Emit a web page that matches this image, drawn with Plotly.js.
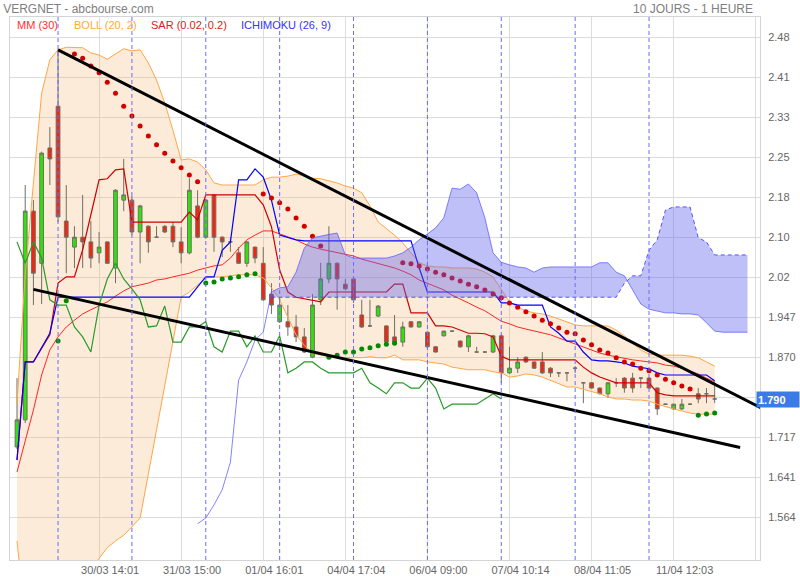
<!DOCTYPE html>
<html>
<head>
<meta charset="utf-8">
<script src="https://cdn.plot.ly/plotly-3.0.1.min.js"></script>
<style>html,body{margin:0;padding:0;background:#fff;}#chart{width:800px;height:580px;}</style>
</head>
<body>
<div id="chart"></div>
<script>
// ---- hourly OHLC (86 bars) ----
const opens = [1.699,1.751,2.151,2.051,2.272,2.352,2.132,2.082,2.101,2.092,
  2.071,2.092,2.042,2.172,2.172,2.111,2.122,2.101,2.122,2.122,
  2.092,2.071,2.161,2.101,2.182,2.101,2.092,2.071,2.051,2.082,
  2.051,1.992,1.939,1.939,1.929,1.910,1.871,1.981,2.021,2.051,
  2.011,2.021,1.952,1.931,1.950,1.931,1.910,1.900,1.939,1.929,
  1.919,1.891,1.912,1.921,1.902,1.891,1.881,1.881,1.881,1.912,
  1.841,1.850,1.871,1.862,1.862,1.850,1.841,1.841,1.850,1.822,
  1.822,1.812,1.801,1.822,1.831,1.831,1.831,1.831,1.812,1.781,
  1.772,1.772,1.781,1.801,1.801,1.791];
const highs = [1.831,2.201,2.172,2.265,2.312,2.462,2.201,2.122,2.182,2.132,
  2.111,2.093,2.193,2.251,2.180,2.163,2.124,2.122,2.124,2.130,
  2.120,2.214,2.191,2.175,2.184,2.103,2.100,2.082,2.094,2.083,
  2.082,2.013,1.986,1.971,1.952,1.927,1.992,2.052,2.122,2.053,
  2.021,2.023,1.981,1.981,1.971,1.932,1.952,1.939,1.940,1.940,
  1.920,1.892,1.922,1.922,1.903,1.914,1.891,1.882,1.914,1.914,
  1.891,1.871,1.873,1.863,1.881,1.852,1.842,1.842,1.854,1.823,
  1.823,1.813,1.823,1.831,1.833,1.841,1.833,1.833,1.813,1.782,
  1.782,1.791,1.782,1.812,1.812,1.824];
const lows = [1.695,1.745,1.971,1.973,2.201,2.130,2.032,2.042,2.042,2.042,
  2.051,2.050,2.013,2.151,2.105,2.051,2.071,2.101,2.109,2.082,
  2.051,2.068,2.099,2.098,2.073,2.063,2.073,2.050,2.044,2.051,
  1.979,1.954,1.937,1.912,1.900,1.879,1.869,1.971,2.013,1.962,
  2.000,1.975,1.927,1.929,1.948,1.898,1.898,1.891,1.928,1.928,
  1.889,1.880,1.911,1.920,1.889,1.881,1.880,1.880,1.879,1.822,
  1.839,1.841,1.860,1.849,1.839,1.833,1.833,1.825,1.841,1.783,
  1.811,1.800,1.793,1.814,1.803,1.803,1.812,1.810,1.760,1.780,
  1.770,1.770,1.780,1.783,1.783,1.783];
const closes = [1.751,2.151,2.032,2.262,2.251,2.140,2.101,2.101,2.092,2.061,
  2.082,2.051,2.191,2.182,2.111,2.161,2.092,2.101,2.111,2.092,
  2.071,2.191,2.101,2.172,2.101,2.092,2.092,2.051,2.092,2.061,
  1.981,1.971,1.971,1.929,1.910,1.881,1.971,2.021,2.051,2.021,
  2.002,1.981,1.929,1.931,1.969,1.900,1.900,1.929,1.929,1.939,
  1.891,1.881,1.921,1.921,1.891,1.912,1.881,1.881,1.912,1.841,
  1.850,1.862,1.862,1.850,1.841,1.841,1.841,1.841,1.850,1.822,
  1.812,1.801,1.822,1.822,1.812,1.812,1.831,1.812,1.772,1.781,
  1.781,1.781,1.781,1.791,1.801,1.791];

// ---- MM (30) ----
const ma30 = [1.651,1.712,1.770,1.837,1.885,1.910,1.929,1.942,1.954,1.962,
  1.969,1.977,1.988,1.998,2.006,2.009,2.013,2.019,2.021,2.025,
  2.029,2.032,2.038,2.042,2.046,2.048,2.061,2.080,2.096,2.105,
  2.113,2.113,2.107,2.101,2.096,2.088,2.082,2.078,2.075,2.071,
  2.069,2.065,2.059,2.055,2.050,2.046,2.042,2.036,2.029,2.019,
  2.013,2.006,2.000,1.990,1.983,1.975,1.967,1.960,1.950,1.940,
  1.935,1.929,1.925,1.921,1.917,1.914,1.908,1.902,1.896,1.891,
  1.885,1.879,1.875,1.872,1.868,1.866,1.864,1.862,1.860,1.856,
  1.854,1.850,1.845,1.839,1.831,1.824];

// ---- BOLL (20, 2) ----
const bollUp = [1.783,2.029,2.205,2.377,2.441,2.460,2.465,2.465,2.464,2.454,
  2.450,2.442,2.452,2.462,2.458,2.460,2.435,2.402,2.358,2.306,
  2.249,2.251,2.245,2.230,2.205,2.201,2.201,2.201,2.201,2.201,
  2.211,2.216,2.216,2.218,2.222,2.218,2.214,2.213,2.209,2.205,
  2.199,2.195,2.186,2.161,2.130,2.117,2.105,2.090,2.071,2.052,
  2.046,2.044,2.044,2.042,2.042,2.042,2.040,2.034,2.025,2.000,
  1.977,1.967,1.960,1.956,1.954,1.950,1.944,1.939,1.933,1.931,
  1.931,1.931,1.931,1.923,1.912,1.898,1.885,1.877,1.875,1.875,
  1.875,1.875,1.873,1.870,1.862,1.854];
const bollLow = [1.519,1.368,1.330,1.300,1.300,1.320,1.350,1.390,1.430,1.465,
  1.486,1.506,1.519,1.530,1.546,1.563,1.647,1.732,1.816,1.900,
  1.986,1.996,2.009,2.023,2.025,2.025,2.027,2.029,2.029,2.029,
  2.023,2.004,1.981,1.946,1.914,1.894,1.879,1.875,1.872,1.870,
  1.870,1.870,1.870,1.872,1.870,1.870,1.875,1.866,1.866,1.866,
  1.862,1.860,1.858,1.852,1.850,1.847,1.847,1.847,1.843,1.841,
  1.833,1.835,1.839,1.837,1.833,1.827,1.820,1.814,1.814,1.810,
  1.806,1.801,1.795,1.791,1.791,1.789,1.789,1.787,1.781,1.776,
  1.772,1.768,1.764,1.762,1.762,1.762];

// ---- SAR (0.02, 0.2) ----
const sar = [null,null,null,null,null,1.902,1.979,
  2.452,2.444,2.429,2.416,2.398,2.377,2.352,2.333,2.314,2.295,2.278,2.262,2.247,2.234,2.220,2.207,
  2.013,2.015,2.021,2.023,2.025,2.029,2.031,
  2.184,2.176,2.167,2.155,2.138,2.122,2.103,2.084,
  1.871,1.875,1.881,1.881,1.887,1.889,1.893,1.896,1.898,
  2.052,2.050,2.046,2.040,2.034,2.029,2.023,2.017,2.011,2.006,2.000,1.992,1.985,1.975,1.967,1.958,1.950,1.942,
  1.935,1.927,1.919,1.916,1.904,1.895,1.885,1.879,1.870,1.862,1.858,1.850,1.845,1.837,1.829,1.822,1.816,1.810,
  1.760,1.762,1.764];

// ---- ICHIMOKU (26, 9) ----
const tenkan = [1.674,1.862,1.862,1.889,1.914,2.013,2.025,2.025,2.077,2.144,
  2.211,2.213,2.230,2.232,2.130,2.130,2.130,2.130,2.130,2.130,
  2.130,2.149,2.134,2.182,2.182,2.182,2.182,2.182,2.182,2.182,
  2.163,2.121,2.038,1.996,1.986,1.983,1.981,1.977,1.996,1.996,
  1.996,1.996,1.996,1.996,1.996,1.996,2.011,2.011,1.956,1.956,
  1.956,1.931,1.931,1.929,1.923,1.917,1.917,1.916,1.910,1.873,
  1.866,1.866,1.866,1.866,1.866,1.866,1.866,1.866,1.866,1.852,
  1.841,1.833,1.827,1.822,1.822,1.822,1.822,1.822,1.803,1.799,
  1.797,1.797,1.797,1.797,1.797,1.797];
const kijun = [1.674,1.862,1.862,1.889,1.917,1.986,1.986,1.986,1.986,1.986,
  1.986,1.986,1.986,1.986,1.986,1.986,1.986,1.986,1.986,1.986,
  1.986,1.986,2.006,2.025,2.025,2.076,2.092,2.211,2.211,2.232,
  2.216,2.172,2.105,2.100,2.096,2.094,2.094,2.094,2.094,2.094,
  2.094,2.094,2.094,2.094,2.094,2.094,2.094,2.094,2.094,2.042,
  1.996,1.996,1.996,1.996,1.996,1.996,1.996,1.996,1.996,1.975,
  1.975,1.971,1.971,1.971,1.971,1.929,1.917,1.902,1.902,1.881,
  1.866,1.864,1.864,1.862,1.860,1.854,1.852,1.849,1.841,1.837,
  1.837,1.837,1.837,1.837,1.837,1.826];
const chikou = [2.092,2.051,2.092,2.061,1.981,1.971,1.971,1.929,1.910,1.881,
  1.971,2.021,2.051,2.021,2.002,1.981,1.929,1.931,1.969,1.900,
  1.900,1.929,1.929,1.939,1.891,1.881,1.921,1.921,1.891,1.912,
  1.881,1.881,1.912,1.841,1.850,1.862,1.862,1.850,1.841,1.841,
  1.841,1.841,1.850,1.822,1.812,1.801,1.822,1.822,1.812,1.812,
  1.831,1.812,1.772,1.781,1.781,1.781,1.781,1.791,1.801,1.791];
const spanAStart = 22;
const spanA = [1.552,1.563,1.588,1.617,1.670,1.827,1.862,1.904,1.919,1.996,
  2.004,2.006,2.034,2.080,2.100,2.103,2.107,2.109,2.067,2.061,
  2.061,2.061,2.061,2.061,2.065,2.071,2.082,2.096,2.107,2.119,
  2.138,2.195,2.193,2.203,2.186,2.138,2.071,2.053,2.048,2.044,
  2.042,2.034,2.042,2.044,2.044,2.044,2.044,2.044,2.044,2.052,
  2.052,2.034,2.027,2.000,1.973,1.963,1.960,1.956,1.956,1.954,
  1.954,1.952,1.937,1.921,1.919,1.919,1.919,1.919];
const spanBStart = 31;
const spanB = [1.986,1.986,1.986,1.986,1.986,1.986,1.986,1.986,1.986,1.986,
  1.986,1.986,1.986,1.986,1.986,1.986,1.986,1.986,1.986,1.986,
  1.986,1.986,1.986,1.986,1.986,1.986,1.986,1.986,1.986,1.986,
  1.986,1.986,1.986,1.986,1.986,1.986,1.986,1.986,1.986,1.986,
  1.986,1.986,1.986,2.013,2.027,2.027,2.076,2.096,2.153,2.159,
  2.159,2.159,2.100,2.092,2.067,2.067,2.067,2.067,2.067];

// ---- drawn trend lines ----
const trendUpIdx = [5, 91];
const trendUpVal = [2.460, 1.771];
const trendLowIdx = [2, 88.1];
const trendLowVal = [2.001, 1.698];

// ---- axis labels ----
const dayStartIdx = [5,14,23,32,41,50,59,68,77];
const xTickIdx = [10,20,30,40,50,60,70,80,90];
const xTickText = ['30/03 14:01','31/03 15:00','01/04 16:01','04/04 17:04','06/04 09:00','07/04 10:14','08/04 11:05','11/04 12:03',''];
const yTickVals = [1.564,1.6407,1.7173,1.794,1.8706,1.9473,2.0239,2.1006,2.1772,2.2539,2.3305,2.4072,2.4838];
const yTickText = ['1.564','1.641','1.717','','1.870','1.947','2.02','2.10','2.18','2.25','2.33','2.41','2.48'];
const lastPrice = 1.790;

// ---------------------------------------------------------------
const idx = closes.map((_, i) => i);
const idxA = spanA.map((_, i) => i + spanAStart);
const idxB = spanB.map((_, i) => i + spanBStart);
const spanAonB = spanA.slice(spanBStart - spanAStart);
const chikouIdx = chikou.map((_, i) => i);

const bandPath = 'M' + idx.map(i => i + ',' + bollUp[i]).join(' L') + ' L' +
  idx.slice().reverse().map(i => i + ',' + bollLow[i]).join(' L') + ' Z';

const FONT = 'Liberation Sans, Arial, sans-serif';
const traces = [
  {type:'candlestick', x: idx, open: opens, high: highs, low: lows, close: closes,
   increasing:{line:{color:'#6f6f62', width:1}, fillcolor:'#2ee30c'},
   decreasing:{line:{color:'#6f6f62', width:1}, fillcolor:'#f5230f'},
   whiskerwidth:0, hoverinfo:'skip', showlegend:false},
  {type:'scatter', mode:'lines', x: idx, y: bollUp, line:{color:'#ffa647', width:1}, hoverinfo:'skip'},
  {type:'scatter', mode:'lines', x: idx, y: bollLow, line:{color:'#ffa647', width:1}, hoverinfo:'skip'},
  {type:'scatter', mode:'lines', x: idx, y: ma30, line:{color:'#ff2626', width:1}, hoverinfo:'skip'},
  {type:'scatter', mode:'lines', x: idx, y: tenkan, line:{color:'#d00000', width:1.2}, hoverinfo:'skip'},
  {type:'scatter', mode:'lines', x: idx, y: kijun, line:{color:'#0000ff', width:1.2}, hoverinfo:'skip'},
  {type:'scatter', mode:'lines', x: chikouIdx, y: chikou, line:{color:'#2a9a2a', width:1.2}, hoverinfo:'skip'},
  {type:'scatter', mode:'markers', x: idx, y: sar,
   marker:{size:5, color: sar.map((s, i) => (s !== null && s < closes[i]) ? '#008a00' : '#d00000')}, hoverinfo:'skip'},
  {type:'scatter', mode:'lines', x: idxB, y: spanB, line:{color:'rgba(60,60,255,0.85)', width:1, dash:'4px,3px'}, hoverinfo:'skip'},
  {type:'scatter', mode:'lines', x: idxB, y: spanAonB, fill:'tonexty', fillcolor:'rgba(97,97,237,0.4)', line:{width:0}, hoverinfo:'skip'},
  {type:'scatter', mode:'lines', x: idxA, y: spanA, line:{color:'rgba(90,90,255,0.75)', width:1}, hoverinfo:'skip'},
  {type:'scatter', mode:'lines', x: trendUpIdx, y: trendUpVal, line:{color:'#000', width:3}, hoverinfo:'skip'},
  {type:'scatter', mode:'lines', x: trendLowIdx, y: trendLowVal, line:{color:'#000', width:3}, hoverinfo:'skip'}
];

const shapes = [
  {type:'path', xref:'x', yref:'y', path: bandPath, fillcolor:'rgba(243,175,99,0.25)', line:{width:0}, layer:'between'}
].concat(dayStartIdx.map(d => ({
  type:'line', xref:'x', yref:'paper', x0:d, x1:d, y0:0, y1:1,
  line:{color:'#6a6aff', width:1, dash:'4px,3px'}, layer:'above'
})));

const pyPix = p => (560 - p) / 543;  // paper y from pixel row
const pxPix = p => (p - 10) / 750;   // paper x from pixel column
const legend = [
  {t:'MM (30)', c:'#ff3030', x:15},
  {t:'BOLL (20, 2)', c:'#ffaa33', x:72},
  {t:'SAR (0.02, 0.2)', c:'#dd2020', x:149},
  {t:'ICHIMOKU (26, 9)', c:'#3535ff', x:239}
];
const annotations = legend.map(l => ({
  xref:'paper', yref:'paper', x: pxPix(l.x), y: pyPix(25), xanchor:'left', yanchor:'middle',
  text: l.t, showarrow:false, font:{family:FONT, size:11, color:l.c}
}));
annotations.push({xref:'paper', yref:'paper', x: pxPix(755), y: pyPix(9), xanchor:'right', yanchor:'middle',
  text:'10 JOURS - 1 HEURE', showarrow:false, font:{family:FONT, size:12, color:'#808080'}});
annotations.push({xref:'paper', yref:'y', x:1, xshift:-4, y:lastPrice, xanchor:'left', yanchor:'middle',
  text:'<b>' + lastPrice.toFixed(3) + '</b>', showarrow:false, bgcolor:'#3b7be6', borderpad:1,
  width:40, height:13, align:'left', font:{family:FONT, size:11, color:'#ffffff'}});

const layout = {
  width:800, height:580,
  margin:{l:10, r:40, t:17, b:20, pad:0},
  paper_bgcolor:'#ffffff', plot_bgcolor:'#ffffff',
  showlegend:false,
  title:{text:'VERGNET - abcbourse.com', x:0.004, xanchor:'left', y:1 - 9/580, yanchor:'middle',
         font:{family:FONT, size:12, color:'#808080'}},
  xaxis:{range:[-0.853, 90.52], tickmode:'array', tickvals:xTickIdx, ticktext:xTickText,
         showgrid:true, gridcolor:'#dcdcdc', gridwidth:1, zeroline:false, ticks:'',
         showline:true, mirror:true, linecolor:'#d4d4d4', linewidth:1,
         tickfont:{family:FONT, size:11, color:'#666'}, ticklabelshift:11,
         rangeslider:{visible:false}, fixedrange:true},
  yaxis:{range:[1.4825, 2.5229], side:'right', tickmode:'array', tickvals:yTickVals, ticktext:yTickText,
         showgrid:true, gridcolor:'#dcdcdc', gridwidth:1, zeroline:false, ticks:'',
         showline:true, mirror:true, linecolor:'#d4d4d4', linewidth:1,
         tickfont:{family:FONT, size:11, color:'#666'}, ticklabelstandoff:5, fixedrange:true},
  boxgap:0.35,
  shapes: shapes,
  annotations: annotations
};

Plotly.newPlot('chart', traces, layout, {staticPlot:true, displayModeBar:false});
</script>
</body>
</html>
